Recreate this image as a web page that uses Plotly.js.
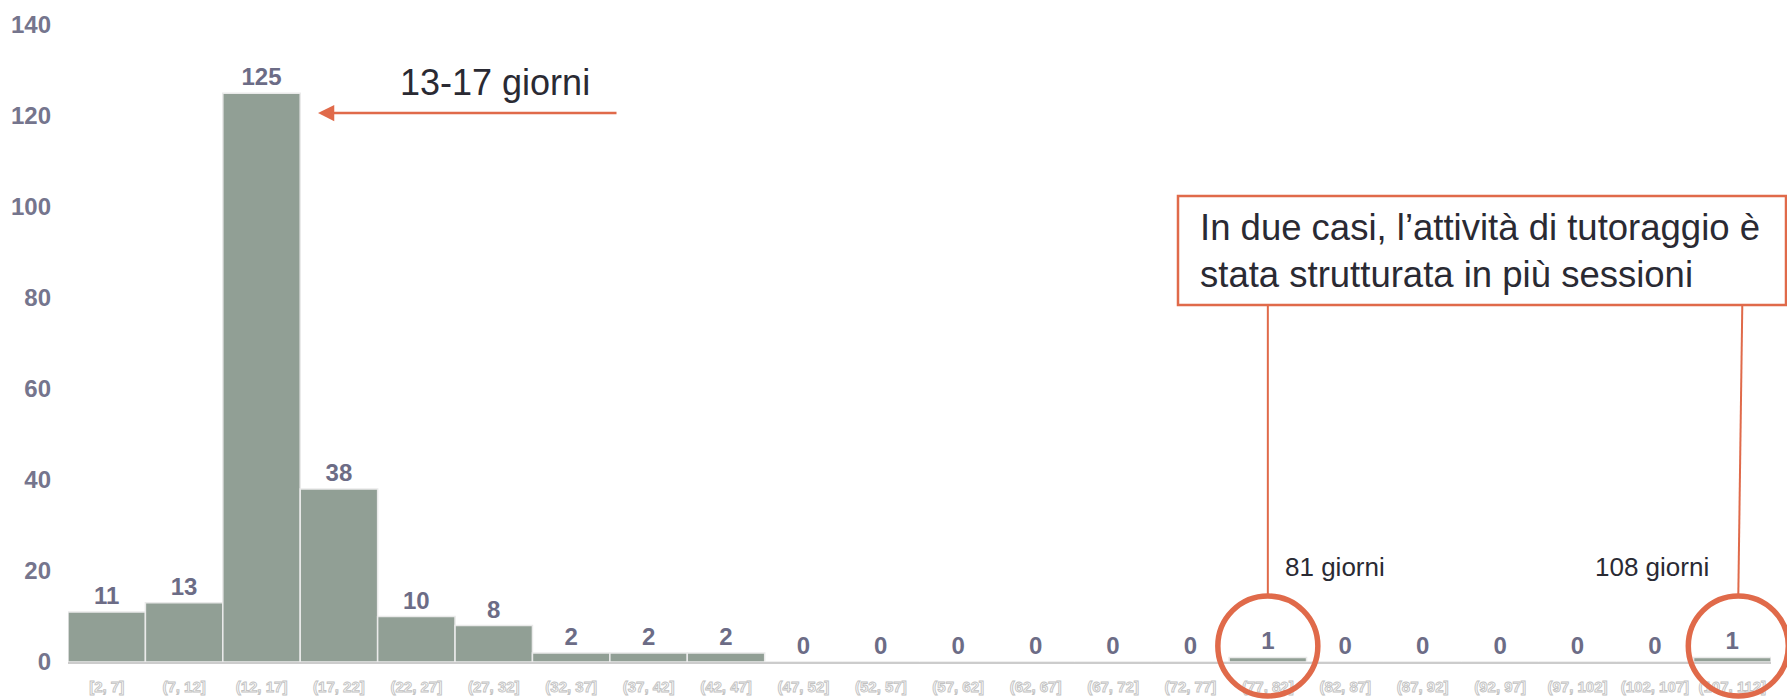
<!DOCTYPE html>
<html>
<head>
<meta charset="utf-8">
<script src="https://cdn.plot.ly/plotly-3.0.1.min.js"></script>
<style>
  html, body { margin: 0; padding: 0; background: #ffffff; }
  #chart { width: 1787px; height: 700px; }
  .xtick text { fill: #fbfbfb !important; stroke: #c2c2c2; stroke-width: 0.9px; }
</style>
</head>
<body>
<div id="chart"></div>
<script>
// ---- data ----
const categories = ["[2, 7]", "(7, 12]", "(12, 17]", "(17, 22]", "(22, 27]", "(27, 32]",
  "(32, 37]", "(37, 42]", "(42, 47]", "(47, 52]", "(52, 57]", "(57, 62]", "(62, 67]",
  "(67, 72]", "(72, 77]", "(77, 82]", "(82, 87]", "(87, 92]", "(92, 97]", "(97, 102]",
  "(102, 107]", "(107, 112]"];
const counts = [11, 13, 125, 38, 10, 8, 2, 2, 2, 0, 0, 0, 0, 0, 0, 1, 0, 0, 0, 0, 0, 1];
const yTicks = [0, 20, 40, 60, 80, 100, 120, 140];

const peakLabel = "13-17 giorni";
const noteText = "In due casi, l’attività di tutoraggio è<br>stata strutturata in più sessioni";
const highlightIdx = [15, 21];
const highlightLabels = ["81 giorni", "108 giorni"];

// ---- layout geometry ----
const W = 1787, H = 700;
const M = { l: 68, r: 16, t: 25, b: 38 };
const PW = W - M.l - M.r, PH = H - M.t - M.b;
const n = categories.length;
const yMax = 140;
const px = x => (x - M.l) / PW;           // pixel x -> paper
const py = y => (H - M.b - y) / PH;       // pixel y -> paper
const catX = i => (i + 0.5) / n;          // category centre -> paper
const orange = "#e06a4a";
const darkText = "#2a2a33";
const FONT = "Liberation Sans, Arial, sans-serif";

const trace = {
  type: "bar",
  x: categories,
  y: counts,
  marker: { color: "#919f95", line: { color: "#eaeaea", width: 1.5 } },
  text: counts.map(String),
  textposition: "outside",
  textfont: { family: FONT, size: 24, color: "#6c6c86", weight: "bold" },
  cliponaxis: false,
  hoverinfo: "skip"
};

const shapes = [];
const annotations = [];

// note box
shapes.push({ type: "rect", xref: "paper", yref: "paper",
  x0: px(1178), x1: px(1786), y0: py(305), y1: py(196),
  line: { color: orange, width: 2.5 }, fillcolor: "rgba(0,0,0,0)" });
annotations.push({ xref: "paper", yref: "paper", x: px(1198), y: py(251),
  xanchor: "left", yanchor: "middle", align: "left", showarrow: false,
  text: noteText, font: { family: FONT, size: 36.5, color: darkText } });

// connectors + circles
const circleCx = [catX(highlightIdx[0]), catX(highlightIdx[1]) + px(74) - px(68)];
const lineTopX = [catX(highlightIdx[0]), catX(highlightIdx[1]) + px(78) - px(68)];
const circleCy = 646, R = 50;
for (let k = 0; k < 2; k++) {
  shapes.push({ type: "line", xref: "paper", yref: "paper",
    x0: lineTopX[k], y0: py(305), x1: circleCx[k], y1: py(circleCy - R),
    line: { color: orange, width: 2 } });
  shapes.push({ type: "circle", xref: "paper", yref: "paper",
    x0: circleCx[k] - R / PW, x1: circleCx[k] + R / PW,
    y0: py(circleCy + R), y1: py(circleCy - R),
    line: { color: orange, width: 5.5 } });
}
annotations.push({ xref: "paper", yref: "paper", x: px(1283), y: py(567),
  xanchor: "left", yanchor: "middle", showarrow: false, text: highlightLabels[0],
  font: { family: FONT, size: 26, color: darkText } });
annotations.push({ xref: "paper", yref: "paper", x: px(1593), y: py(567),
  xanchor: "left", yanchor: "middle", showarrow: false, text: highlightLabels[1],
  font: { family: FONT, size: 26, color: darkText } });

// peak label + arrow
annotations.push({ xref: "paper", yref: "paper", x: px(495), y: py(82),
  xanchor: "center", yanchor: "middle", showarrow: false, text: peakLabel,
  font: { family: FONT, size: 36, color: darkText } });
annotations.push({ xref: "paper", yref: "paper", x: px(318), y: py(113),
  axref: "pixel", ayref: "pixel", ax: 300, ay: 0, text: "", showarrow: true,
  arrowhead: 2, arrowsize: 1.3, arrowwidth: 2.5, arrowcolor: orange, standoff: 0 });

const layout = {
  width: W, height: H,
  margin: M,
  paper_bgcolor: "#ffffff", plot_bgcolor: "#ffffff",
  bargap: 0,
  showlegend: false,
  xaxis: {
    type: "category",
    range: [-0.5, n - 0.5],
    showgrid: false, zeroline: false,
    showline: true, linecolor: "#cccccc", linewidth: 2,
    ticks: "", ticklabelstandoff: 10,
    tickfont: { family: "Liberation Sans Narrow, Liberation Sans, Arial, sans-serif", size: 15, color: "#c8c8c8", weight: "bold" },
    automargin: false, fixedrange: true
  },
  yaxis: {
    range: [0, yMax],
    tickvals: yTicks,
    showgrid: false, zeroline: false, showline: false,
    ticks: "", ticklabelstandoff: 16,
    tickfont: { family: FONT, size: 24, color: "#75758d", weight: "bold" },
    automargin: false, fixedrange: true
  },
  shapes: shapes,
  annotations: annotations
};

Plotly.newPlot("chart", [trace], layout, { displayModeBar: false, staticPlot: true });
</script>
</body>
</html>
